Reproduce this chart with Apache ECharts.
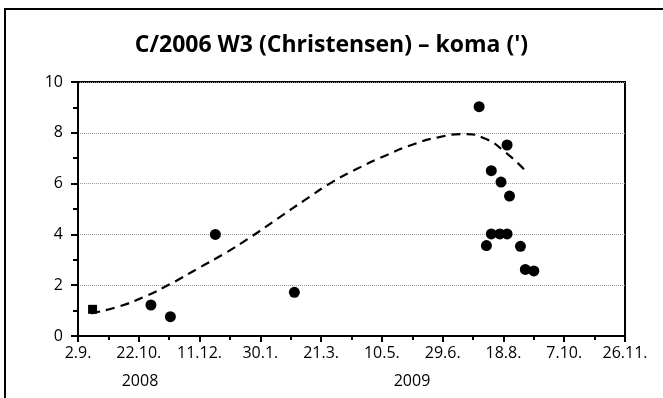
<!DOCTYPE html>
<html><head><meta charset="utf-8">
<script src="https://cdn.jsdelivr.net/npm/echarts@6/dist/echarts.min.js"></script>
<style>html,body{margin:0;padding:0;background:#fff}#c{width:663px;height:398px}</style>
</head><body><div id="c"></div>
<script>
// Reference start date of the axis (day 0)
const startDate = '2008-09-02';
const axisDays = 450;         // 2.9.2008 .. 26.11.2009
const tickStepDays = 50;
const yTicks = [0, 2, 4, 6, 8, 10];

// First observation (square marker)
const firstObs = [['2008-09-14', 1.05]];
// Other coma observations [date, coma size in arcmin]
const observations = [
  ['2008-11-01', 1.22],
  ['2008-11-17', 0.76],
  ['2008-12-24', 4.0],
  ['2009-02-27', 1.72],
  ['2009-07-29', 9.03],
  ['2009-08-21', 7.52],
  ['2009-08-08', 6.51],
  ['2009-08-16', 6.06],
  ['2009-08-23', 5.51],
  ['2009-08-08', 4.02],
  ['2009-08-15', 4.02],
  ['2009-08-21', 4.02],
  ['2009-08-04', 3.56],
  ['2009-09-01', 3.53],
  ['2009-09-05', 2.62],
  ['2009-09-12', 2.56]
];
// Trend curve [day offset from startDate, value]
const trend = [
  [11, 0.89], [32.9, 1.15], [54.9, 1.55], [76.8, 2.07], [98.7, 2.66], [120.7, 3.25],
  [142.6, 3.91], [164.5, 4.63], [186.5, 5.35], [208.4, 6.04], [230.3, 6.60], [252.3, 7.09],
  [274.3, 7.52], [296.2, 7.82], [318.1, 7.95], [334.6, 7.78], [351, 7.26], [368.9, 6.47]
];

const DAY = 86400000;
const t0 = Date.parse(startDate + 'T00:00:00Z');
const toDay = s => Math.round((Date.parse(s + 'T00:00:00Z') - t0) / DAY);
const conv = arr => arr.map(d => [toDay(d[0]), d[1]]);
const fmtDay = v => { const d = new Date(t0 + v * DAY); return d.getUTCDate() + '.' + (d.getUTCMonth() + 1) + '.'; };

const FONT = 'Open Sans';
const chart = echarts.init(document.getElementById('c'));
chart.setOption({
  animation: false,
  title: {
    text: "C/2006 W3 (Christensen) – koma (')",
    left: 'center', top: 29,
    textStyle: { fontFamily: FONT, fontWeight: 'bold', fontSize: 23, color: '#000' }
  },
  graphic: [
    { type: 'rect', shape: { x: 5, y: 9, width: 720, height: 420 }, style: { fill: 'none', stroke: '#000', lineWidth: 2 }, silent: true },
    { type: 'text', x: 140, y: 381, style: { text: '2008', font: '16px "' + FONT + '"', fill: '#000', textAlign: 'center', textVerticalAlign: 'middle' } },
    { type: 'text', x: 412, y: 381, style: { text: '2009', font: '16px "' + FONT + '"', fill: '#000', textAlign: 'center', textVerticalAlign: 'middle' } }
  ],
  grid: { left: 78, right: 38, top: 82, bottom: 62, show: true, borderColor: '#000', borderWidth: 2, backgroundColor: 'transparent' },
  xAxis: {
    type: 'value', min: 0, max: axisDays, interval: tickStepDays,
    axisLine: { lineStyle: { color: '#000', width: 2 } },
    axisTick: { length: 6, lineStyle: { color: '#000', width: 2 } },
    minorTick: { show: true, splitNumber: 2, length: 4, lineStyle: { color: '#000', width: 2 } },
    splitLine: { show: false },
    axisLabel: { formatter: fmtDay, fontFamily: FONT, fontSize: 16, color: '#000', margin: 9 }
  },
  yAxis: {
    type: 'value', min: yTicks[0], max: yTicks[yTicks.length - 1], interval: 2,
    axisLine: { show: true, lineStyle: { color: '#000', width: 2 } },
    axisTick: { show: true, length: 7, lineStyle: { color: '#000', width: 2 } },
    minorTick: { show: true, splitNumber: 2, length: 5, lineStyle: { color: '#000', width: 2 } },
    splitLine: { show: true, lineStyle: { color: '#999', width: 1, type: [1, 1] } },
    axisLabel: { fontFamily: FONT, fontSize: 16, color: '#000', margin: 15 }
  },
  series: [
    { type: 'line', data: trend, smooth: 0.5, symbol: 'none', z: 2,
      lineStyle: { color: '#000', width: 2.2, type: [9, 6] } },
    { type: 'scatter', data: conv(firstObs), symbol: 'rect', symbolSize: 9, itemStyle: { color: '#000', opacity: 1 }, z: 3 },
    { type: 'scatter', data: conv(observations), symbol: 'circle', symbolSize: 11, itemStyle: { color: '#000', opacity: 1 }, z: 3 }
  ]
});
</script></body></html>
